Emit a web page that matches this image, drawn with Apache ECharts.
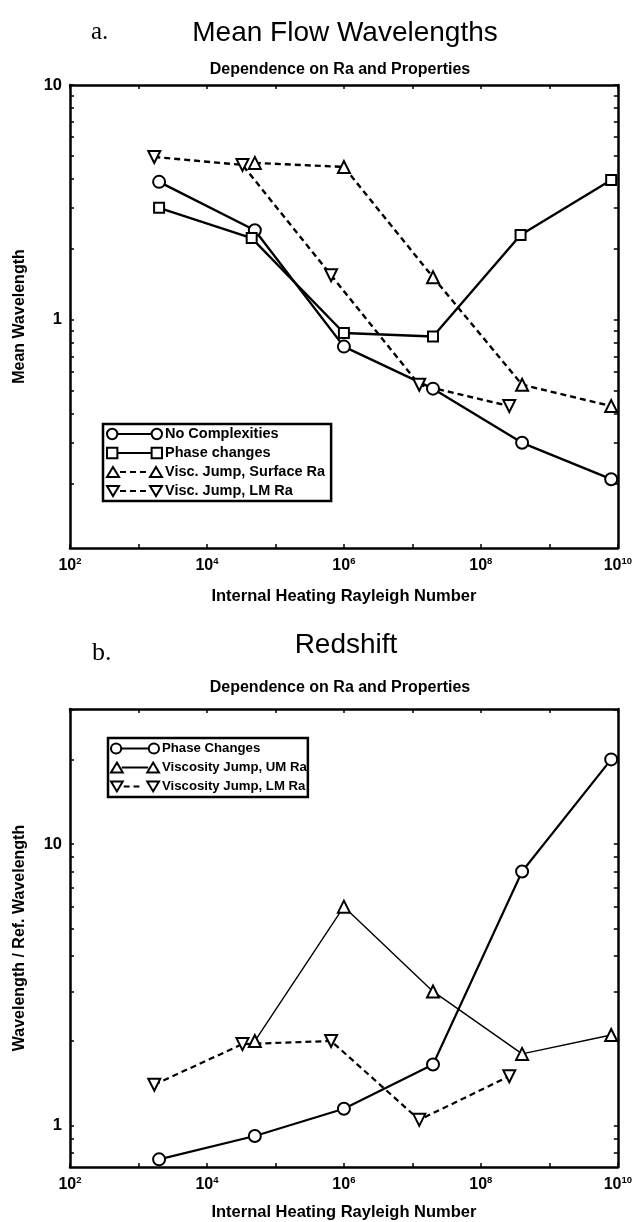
<!DOCTYPE html>
<html>
<head>
<meta charset="utf-8">
<script src="https://cdn.jsdelivr.net/npm/echarts@6/dist/echarts.min.js"></script>
<style>
  html, body { margin: 0; padding: 0; background: #fff; }
  #main { width: 635px; height: 1222px; }
</style>
</head>
<body>
<div id="main"></div>
<script>
// ---- panel a: mean flow wavelengths ----
var raNoComplex = [2e3, 5e4, 1e6, 2e7, 4e8, 8e9];
var wlNoComplex = [3.87, 2.41, 0.77, 0.51, 0.30, 0.21];
var raPhase = [2e3, 4.5e4, 1e6, 2e7, 3.8e8, 8e9];
var wlPhase = [3.0, 2.23, 0.88, 0.85, 2.30, 3.94];
var raSurf = [5e4, 1e6, 2e7, 4e8, 8e9];
var wlSurf = [4.66, 4.48, 1.52, 0.53, 0.43];
var raLM = [1.7e3, 3.3e4, 6.5e5, 1.26e7, 2.6e8];
var wlLM = [4.94, 4.57, 1.55, 0.53, 0.43];

// ---- panel b: redshift ----
var raRsPhase = [2e3, 5e4, 1e6, 2e7, 4e8, 8e9];
var rsPhase = [0.76, 0.92, 1.15, 1.65, 8.0, 20];
var raRsUM = [5e4, 1e6, 2e7, 4e8, 8e9];
var rsUM = [2.0, 6.0, 3.0, 1.8, 2.1];
var raRsLM = [1.7e3, 3.3e4, 6.5e5, 1.26e7, 2.6e8];
var rsLM = [1.4, 1.95, 2.0, 1.05, 1.5];

// ticks and labels
var xTicks = [1e2, 1e3, 1e4, 1e5, 1e6, 1e7, 1e8, 1e9, 1e10];
var xLabels = [1e2, 1e4, 1e6, 1e8, 1e10];
var yTicksA = [0.2, 0.3, 0.4, 0.5, 0.6, 0.7, 0.8, 0.9, 1, 2, 3, 4, 5, 6, 7, 8, 9, 10];
var yLabelsA = [1, 10];
var yTicksB = [0.8, 0.9, 1, 2, 3, 4, 5, 6, 7, 8, 9, 10, 20, 30];
var yLabelsB = [1, 10];

var FONT = 'Liberation Sans';
var chart = echarts.init(document.getElementById('main'));

function pairs(xs, ys) {
    return xs.map(function (x, i) { return [x, ys[i]]; });
}

function line(name, gi, xs, ys, symbol, rotate, dashed, width) {
    return {
        name: name,
        type: 'line',
        xAxisIndex: gi * 2,
        yAxisIndex: gi * 2,
        data: pairs(xs, ys),
        symbol: symbol,
        symbolRotate: rotate,
        symbolSize: symbol === 'rect' ? 10 : 12,
        showAllSymbol: true,
        animation: false,
        lineStyle: { color: '#000', width: width, type: dashed ? [6, 4] : 'solid' },
        itemStyle: { color: '#fff', borderColor: '#000', borderWidth: 2 }
    };
}

function xAxes(gi, gap) {
    var common = {
        type: 'log', gridIndex: gi, min: 1e2, max: 1e10,
        splitLine: { show: false },
        axisLine: { show: true, onZero: false, lineStyle: { color: '#000', width: 2.5 } },
        axisTick: { show: true, inside: true, length: 4, customValues: xTicks, lineStyle: { color: '#000', width: 1.5 } }
    };
    var bottom = Object.assign({}, common, {
        position: 'bottom',
        name: 'Internal Heating Rayleigh Number',
        nameLocation: 'middle',
        nameGap: gap,
        nameTextStyle: { fontFamily: FONT, fontSize: 16.5, fontWeight: 'bold', color: '#000' },
        axisLabel: {
            show: true, customValues: xLabels, margin: 8,
            formatter: function (v) { return '{b|10}{e|' + Math.round(Math.log10(v)) + '}'; },
            rich: {
                b: { fontFamily: FONT, fontSize: 16, fontWeight: 'bold', color: '#000' },
                e: { fontFamily: FONT, fontSize: 9.5, fontWeight: 'bold', color: '#000', padding: [0, 0, 10, 0] }
            }
        }
    });
    var top = Object.assign({}, common, { position: 'top', axisLabel: { show: false } });
    return [bottom, top];
}

function yAxes(gi, min, max, ticks, labels, name) {
    var common = {
        type: 'log', gridIndex: gi, min: min, max: max,
        splitLine: { show: false },
        axisLine: { show: true, onZero: false, lineStyle: { color: '#000', width: 2.5 } },
        axisTick: { show: true, inside: true, length: 4, customValues: ticks, lineStyle: { color: '#000', width: 1.5 } }
    };
    var left = Object.assign({}, common, {
        position: 'left',
        name: name,
        nameLocation: 'middle',
        nameGap: 42,
        nameRotate: 90,
        nameTextStyle: { fontFamily: FONT, fontSize: 16, fontWeight: 'bold', color: '#000' },
        axisLabel: {
            show: true, customValues: labels, margin: 8,
            fontFamily: FONT, fontSize: 16.5, fontWeight: 'bold', color: '#000',
            formatter: function (v) { return String(Math.round(v)); }
        }
    });
    var right = Object.assign({}, common, { position: 'right', axisLabel: { show: false } });
    return [left, right];
}

// legend glyph: marker, line (solid or dashed), marker
function icon(shape, dashed, span) {
    var s;
    if (shape === 'circle') {
        s = function (cx) { return 'M' + (cx - 5) + ',6 A5,5 0 1 1 ' + (cx + 5) + ',6 A5,5 0 1 1 ' + (cx - 5) + ',6 Z '; };
    } else if (shape === 'rect') {
        s = function (cx) { return 'M' + (cx - 5) + ',1 L' + (cx + 5) + ',1 L' + (cx + 5) + ',11 L' + (cx - 5) + ',11 Z '; };
    } else if (shape === 'up') {
        s = function (cx) { return 'M' + cx + ',1 L' + (cx + 6) + ',11 L' + (cx - 6) + ',11 Z '; };
    } else {
        s = function (cx) { return 'M' + (cx - 6) + ',1 L' + (cx + 6) + ',1 L' + cx + ',11 Z '; };
    }
    var r = 6 + span;
    var mid = '';
    if (dashed) {
        for (var x = 13; x + 6 <= r - 6; x += 10) {
            mid += 'M' + x + ',6 L' + (x + 6) + ',6 ';
        }
    } else {
        mid = 'M11,6 L' + (r - 5) + ',6 ';
    }
    return 'path://' + s(6) + mid + s(r);
}

function legend(left, top, size, width, pad, items) {
    return {
        orient: 'vertical', left: left, top: top,
        itemWidth: width, itemHeight: 12, itemGap: 1,
        padding: pad,
        borderColor: '#000', borderWidth: 2.5, backgroundColor: '#fff',
        selectedMode: false,
        textStyle: { fontFamily: FONT, fontSize: size, lineHeight: 18, fontWeight: 'bold', color: '#000', padding: [0, 0, 0, -2] },
        itemStyle: { color: '#fff', borderColor: '#000', borderWidth: 2 },
        data: items
    };
}

var xa = xAxes(0, 40);
var xb = xAxes(1, 37);
var ya = yAxes(0, 0.107, 10, yTicksA, yLabelsA, 'Mean Wavelength');
var yb = yAxes(1, 0.714, 30.2, yTicksB, yLabelsB, 'Wavelength / Ref. Wavelength');

var option = {
    backgroundColor: '#fff',
    animation: false,
    grid: [
        { left: 70, top: 85, width: 550, height: 463 },
        { left: 70, top: 709, width: 550, height: 460 }
    ],
    xAxis: [xa[0], xa[1], xb[0], xb[1]],
    yAxis: [ya[0], ya[1], yb[0], yb[1]],
    legend: [
        legend(103, 424, 14.5, 55, [1, 6, 1, 3], [
            { name: 'No Complexities', icon: icon('circle', false, 43) },
            { name: 'Phase changes', icon: icon('rect', false, 43) },
            { name: 'Visc. Jump, Surface Ra', icon: icon('up', true, 43) },
            { name: 'Visc. Jump, LM Ra', icon: icon('down', true, 43) }
        ]),
        legend(108, 738, 13.2, 48, [1.5, 1, 1.5, 2], [
            { name: 'Phase Changes', icon: icon('circle', false, 37) },
            { name: 'Viscosity Jump, UM Ra', icon: icon('up', false, 37) },
            { name: 'Viscosity Jump, LM Ra', icon: icon('down', true, 37) }
        ])
    ],
    graphic: [
        { type: 'text', left: 91, top: 20, style: { text: 'a.', font: '25px "Liberation Serif"', fill: '#000' } },
        { type: 'text', x: 345, y: 19, style: { text: 'Mean Flow Wavelengths', font: '28px "Liberation Sans"', fill: '#000', textAlign: 'center' } },
        { type: 'text', x: 340, y: 62, style: { text: 'Dependence on Ra and Properties', font: 'bold 16px "Liberation Sans"', fill: '#000', textAlign: 'center' } },
        { type: 'text', left: 92, top: 640, style: { text: 'b.', font: '26px "Liberation Serif"', fill: '#000' } },
        { type: 'text', x: 346, y: 631, style: { text: 'Redshift', font: '28px "Liberation Sans"', fill: '#000', textAlign: 'center' } },
        { type: 'text', x: 340, y: 680, style: { text: 'Dependence on Ra and Properties', font: 'bold 16px "Liberation Sans"', fill: '#000', textAlign: 'center' } }
    ],
    series: [
        line('No Complexities', 0, raNoComplex, wlNoComplex, 'circle', 0, false, 2.4),
        line('Phase changes', 0, raPhase, wlPhase, 'rect', 0, false, 2.4),
        line('Visc. Jump, Surface Ra', 0, raSurf, wlSurf, 'triangle', 0, true, 2.4),
        line('Visc. Jump, LM Ra', 0, raLM, wlLM, 'triangle', 180, true, 2.4),
        line('Phase Changes', 1, raRsPhase, rsPhase, 'circle', 0, false, 2.2),
        line('Viscosity Jump, UM Ra', 1, raRsUM, rsUM, 'triangle', 0, false, 1.4),
        line('Viscosity Jump, LM Ra', 1, raRsLM, rsLM, 'triangle', 180, true, 2.2)
    ]
};
chart.setOption(option);
</script>
</body>
</html>
